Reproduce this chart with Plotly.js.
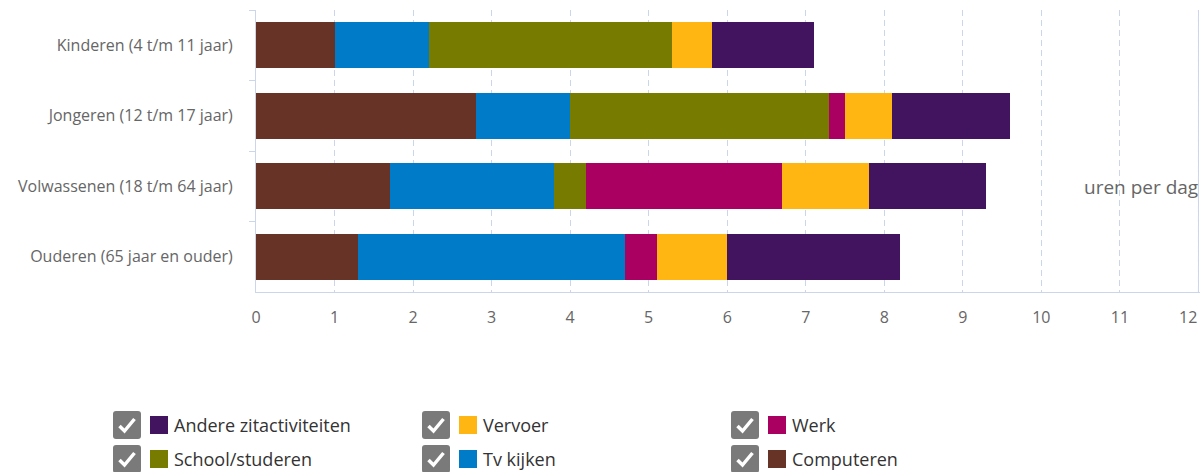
<!DOCTYPE html>
<html>
<head>
<meta charset="utf-8">
<script src="https://cdn.plot.ly/plotly-3.0.1.min.js"></script>
<style>html,body{margin:0;padding:0;background:#fff;}#chart{width:1202px;height:472px;}</style>
</head>
<body>
<div id="chart"></div>
<script>
// Data
var categories = ["Kinderen (4 t/m 11 jaar)", "Jongeren (12 t/m 17 jaar)", "Volwassenen (18 t/m 64 jaar)", "Ouderen (65 jaar en ouder)"];
var seriesNames = ["Computeren", "Tv kijken", "School/studeren", "Werk", "Vervoer", "Andere zitactiviteiten"];
var computeren = [1.0, 2.8, 1.7, 1.3];
var tvKijken = [1.2, 1.2, 2.1, 3.4];
var school = [3.1, 3.3, 0.4, 0.0];
var werk = [0.0, 0.2, 2.5, 0.4];
var vervoer = [0.5, 0.6, 1.1, 0.9];
var andere = [1.3, 1.5, 1.5, 2.2];
var xTicks = [0,1,2,3,4,5,6,7,8,9,10,11,12];
var axisTitle = "uren per dag";
// legend order (row-major, as shown)
var legendOrder = ["Andere zitactiviteiten", "Vervoer", "Werk", "School/studeren", "Tv kijken", "Computeren"];

var seriesValues = [computeren, tvKijken, school, werk, vervoer, andere];
var colors = {
  "Computeren": "#673327",
  "Tv kijken": "#007bc7",
  "School/studeren": "#777c00",
  "Werk": "#a90061",
  "Vervoer": "#ffb612",
  "Andere zitactiviteiten": "#42145f"
};

var W = 1202, H = 472;
var L = 256, R = 2, T = 10, B = 180;
var pw = W - L - R, ph = H - T - B;
function px(x){ return (x - L) / pw; }
function py(y){ return (H - B - y) / ph; }

var traces = seriesNames.map(function(name, i){
  return {
    type: 'bar', orientation: 'h', name: name,
    y: categories, x: seriesValues[i],
    marker: {color: colors[name], line: {width: 0}},
    showlegend: false, hoverinfo: 'x+name'
  };
});

var shapes = [], annotations = [];
var colX = [113, 422, 731];
var rowY = [425, 459];
function rr(x0, y0, w, h, r){
  var p = [];
  p.push('M' + px(x0 + r) + ',' + py(y0));
  p.push('L' + px(x0 + w - r) + ',' + py(y0));
  p.push('Q' + px(x0 + w) + ',' + py(y0) + ' ' + px(x0 + w) + ',' + py(y0 + r));
  p.push('L' + px(x0 + w) + ',' + py(y0 + h - r));
  p.push('Q' + px(x0 + w) + ',' + py(y0 + h) + ' ' + px(x0 + w - r) + ',' + py(y0 + h));
  p.push('L' + px(x0 + r) + ',' + py(y0 + h));
  p.push('Q' + px(x0) + ',' + py(y0 + h) + ' ' + px(x0) + ',' + py(y0 + h - r));
  p.push('L' + px(x0) + ',' + py(y0 + r));
  p.push('Q' + px(x0) + ',' + py(y0) + ' ' + px(x0 + r) + ',' + py(y0));
  p.push('Z');
  return p.join(' ');
}
legendOrder.forEach(function(name, k){
  var cx = colX[k % 3], cy = rowY[Math.floor(k / 3)];
  shapes.push({type: 'path', xref: 'paper', yref: 'paper', path: rr(cx, cy - 14, 28, 28, 3),
    fillcolor: '#7a7a7a', line: {width: 0}, layer: 'above'});
  shapes.push({type: 'path', xref: 'paper', yref: 'paper',
    path: 'M' + px(cx + 6.5) + ',' + py(cy + 1) + ' L' + px(cx + 11.5) + ',' + py(cy + 6) + ' L' + px(cx + 21.5) + ',' + py(cy - 6),
    line: {color: '#ffffff', width: 3.5}, layer: 'above'});
  shapes.push({type: 'rect', xref: 'paper', yref: 'paper',
    x0: px(cx + 37), x1: px(cx + 55), y0: py(cy - 9), y1: py(cy + 9),
    fillcolor: colors[name], line: {width: 0}, layer: 'above'});
  annotations.push({xref: 'paper', yref: 'paper', x: px(cx + 59), y: py(cy), xanchor: 'left', yanchor: 'middle',
    text: name, showarrow: false, font: {size: 18, color: '#333333', family: 'Open Sans, sans-serif'}});
});
annotations.push({xref: 'paper', yref: 'paper', x: 1, y: py(187), xanchor: 'right', yanchor: 'middle',
  text: axisTitle, showarrow: false, font: {size: 19, color: '#666666', family: 'Open Sans, sans-serif'}});

// last tick label is kept inside the chart edge (like the reference)
var lastTick = xTicks[xTicks.length - 1];
annotations.push({xref: 'x', yref: 'paper', x: lastTick, y: py(317), xanchor: 'right', yanchor: 'middle', xshift: 1,
  text: String(lastTick), showarrow: false, font: {size: 16, color: '#666666', family: 'Open Sans, sans-serif'}});
// dashed grid line at the right edge of the range
shapes.push({type: 'line', xref: 'x', yref: 'paper', x0: lastTick, x1: lastTick, y0: 0, y1: 1,
  line: {color: '#ccd6eb', width: 1, dash: '6px,4px'}, layer: 'below'});

var layout = {
  width: W, height: H,
  margin: {l: L, r: R, t: T, b: B, pad: 0},
  barmode: 'stack', bargap: 0.35,
  paper_bgcolor: '#ffffff', plot_bgcolor: '#ffffff',
  font: {family: 'Open Sans, sans-serif', size: 16, color: '#666666'},
  xaxis: {
    range: [0, 12.02], tickvals: xTicks,
    ticktext: xTicks.map(function(v){ return v === lastTick ? '' : String(v); }),
    showgrid: true, gridcolor: '#ccd6eb', griddash: '6px,4px', gridwidth: 1,
    zeroline: false, showline: true, linecolor: '#ccd6eb', linewidth: 1,
    ticks: '', ticklabelstandoff: 11, tickfont: {size: 16, color: '#666666'},
    fixedrange: true
  },
  yaxis: {
    type: 'category', autorange: 'reversed', categoryorder: 'array', categoryarray: categories,
    showgrid: false, zeroline: false, showline: true, linecolor: '#ccd6eb', linewidth: 1,
    ticks: 'outside', tickson: 'boundaries', ticklen: 6, tickcolor: '#ccd6eb',
    ticklabelstandoff: 19, tickfont: {size: 16, color: '#666666'},
    fixedrange: true
  },
  shapes: shapes, annotations: annotations,
  showlegend: false
};

Plotly.newPlot('chart', traces, layout, {displayModeBar: false, staticPlot: true});
</script>
</body>
</html>
